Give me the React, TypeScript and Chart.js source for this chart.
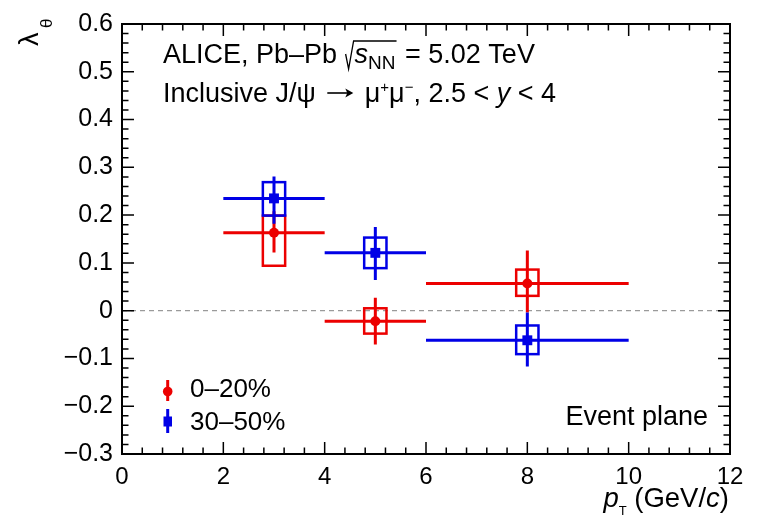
import React, { useEffect, useRef } from "react";
import { Chart, registerables } from "chart.js";

Chart.register(...registerables);

// ---- data ----
const ptCenters = [3, 5, 8];
const ptLow = [2, 4, 6];
const ptHigh = [4, 6, 10];

const lambda020 = [0.163, -0.022, 0.057];
const stat020Up = [0.045, 0.049, 0.069];
const stat020Down = [0.041, 0.049, 0.061];
const syst020Up = [0.036, 0.027, 0.029];
const syst020Down = [0.069, 0.026, 0.026];

const lambda3050 = [0.235, 0.121, -0.062];
const stat3050Up = [0.046, 0.054, 0.058];
const stat3050Down = [0.053, 0.057, 0.055];
const syst3050Up = [0.034, 0.032, 0.031];
const syst3050Down = [0.036, 0.032, 0.029];

const systHalfWidth = 0.22;

const xTickValues = [0, 2, 4, 6, 8, 10, 12];
const yTickValues = [-0.3, -0.2, -0.1, 0, 0.1, 0.2, 0.3, 0.4, 0.5, 0.6];

const seriesLabels = ["0\u201320%", "30\u201350%"];

const RED = "rgb(236,0,0)";
const BLUE = "rgb(0,0,230)";
const FONT = '"Liberation Sans", Arial, Helvetica, sans-serif';

type Seg = { t: string; size?: number; italic?: boolean; dy?: number; arrow?: number };

function setFont(ctx: CanvasRenderingContext2D, s: Seg, def: number) {
  ctx.font = `${s.italic ? "italic " : ""}${s.size ?? def}px ${FONT}`;
}

function segWidth(ctx: CanvasRenderingContext2D, s: Seg, def = 27) {
  if (s.arrow) return s.arrow;
  setFont(ctx, s, def);
  return ctx.measureText(s.t).width;
}

function drawSegs(ctx: CanvasRenderingContext2D, x: number, y: number, segs: Seg[], def = 27) {
  let cx = x;
  ctx.textAlign = "left";
  ctx.textBaseline = "alphabetic";
  for (const s of segs) {
    if (s.arrow) {
      const ay = y - 9;
      const x0 = cx + 4;
      const x1 = cx + s.arrow - 4;
      ctx.save();
      ctx.strokeStyle = ctx.fillStyle as string;
      ctx.lineWidth = 1.6;
      ctx.beginPath();
      ctx.moveTo(x0, ay);
      ctx.lineTo(x1 - 2, ay);
      ctx.stroke();
      ctx.beginPath();
      ctx.moveTo(x1, ay);
      ctx.lineTo(x1 - 8, ay - 4.5);
      ctx.lineTo(x1 - 6, ay);
      ctx.lineTo(x1 - 8, ay + 4.5);
      ctx.closePath();
      ctx.fill();
      ctx.restore();
      cx += s.arrow;
      continue;
    }
    setFont(ctx, s, def);
    ctx.fillText(s.t, cx, y + (s.dy ?? 0));
    cx += ctx.measureText(s.t).width;
  }
  return cx;
}

function fmtY(v: number) {
  const r = Math.round(v * 10) / 10;
  if (Math.abs(r) < 1e-9) return "0";
  return (r < 0 ? "\u2212" : "") + Math.abs(r).toFixed(1);
}

const overlayPlugin = {
  id: "rootStyle",
  beforeDatasetsDraw(chart: any) {
    const ctx: CanvasRenderingContext2D = chart.ctx;
    const xs = chart.scales.x;
    const ys = chart.scales.y;
    const area = chart.chartArea;
    ctx.save();
    // zero dashed line
    ctx.strokeStyle = "#9a9a9a";
    ctx.lineWidth = 1.4;
    ctx.setLineDash([5, 4]);
    ctx.beginPath();
    ctx.moveTo(area.left, ys.getPixelForValue(0));
    ctx.lineTo(area.right, ys.getPixelForValue(0));
    ctx.stroke();
    ctx.setLineDash([]);

    const series = [
      { c: RED, v: lambda020, su: stat020Up, sd: stat020Down, yu: syst020Up, yd: syst020Down },
      { c: BLUE, v: lambda3050, su: stat3050Up, sd: stat3050Down, yu: syst3050Up, yd: syst3050Down },
    ];
    for (const s of series) {
      ctx.strokeStyle = s.c;
      for (let i = 0; i < ptCenters.length; i++) {
        const px = xs.getPixelForValue(ptCenters[i]);
        const py = ys.getPixelForValue(s.v[i]);
        ctx.lineWidth = 2.5;
        const bx0 = xs.getPixelForValue(ptCenters[i] - systHalfWidth);
        const bx1 = xs.getPixelForValue(ptCenters[i] + systHalfWidth);
        const by0 = ys.getPixelForValue(s.v[i] + s.yu[i]);
        const by1 = ys.getPixelForValue(s.v[i] - s.yd[i]);
        ctx.strokeRect(bx0, by0, bx1 - bx0, by1 - by0);
        ctx.lineWidth = 3;
        ctx.beginPath();
        ctx.moveTo(xs.getPixelForValue(ptLow[i]), py);
        ctx.lineTo(xs.getPixelForValue(ptHigh[i]), py);
        ctx.moveTo(px, ys.getPixelForValue(s.v[i] + s.su[i]));
        ctx.lineTo(px, ys.getPixelForValue(s.v[i] - s.sd[i]));
        ctx.stroke();
      }
    }
    ctx.restore();
  },
  afterDraw(chart: any) {
    const ctx: CanvasRenderingContext2D = chart.ctx;
    const xs = chart.scales.x;
    const ys = chart.scales.y;
    const a = chart.chartArea;
    ctx.save();
    ctx.strokeStyle = "#000";
    ctx.fillStyle = "#000";
    ctx.lineWidth = 2;
    ctx.strokeRect(a.left, a.top, a.right - a.left, a.bottom - a.top);
    ctx.lineWidth = 1.5;
    ctx.beginPath();
    for (let k = 0; k <= 30; k++) {
      const v = k * 0.4;
      const major = k % 5 === 0;
      const len = major ? 12 : 6.5;
      const p = xs.getPixelForValue(v);
      ctx.moveTo(p, a.bottom);
      ctx.lineTo(p, a.bottom - len);
      ctx.moveTo(p, a.top);
      ctx.lineTo(p, a.top + len);
    }
    for (let k = 0; k <= 45; k++) {
      const v = -0.3 + k * 0.02;
      const major = k % 5 === 0;
      const len = major ? 12 : 6.5;
      const p = ys.getPixelForValue(v);
      ctx.moveTo(a.left, p);
      ctx.lineTo(a.left + len, p);
      ctx.moveTo(a.right, p);
      ctx.lineTo(a.right - len, p);
    }
    ctx.stroke();

    // annotation line 1
    const base = 63;
    let cx = drawSegs(ctx, 163, base, [{ t: "ALICE, Pb\u2013Pb " }]);
    const rx = cx + 1;
    cx = rx + 9;
    cx = drawSegs(ctx, cx, base, [
      { t: "s", italic: true },
      { t: "NN", size: 19, dy: 6 },
    ]);
    ctx.lineWidth = 1.3;
    ctx.beginPath();
    ctx.moveTo(rx, base - 9);
    ctx.lineTo(rx + 3, base + 6);
    ctx.lineTo(rx + 8, base - 22);
    ctx.lineTo(cx + 1, base - 22);
    ctx.stroke();
    drawSegs(ctx, cx + 2, base, [{ t: " = 5.02 TeV" }]);

    // annotation line 2
    drawSegs(ctx, 163, 102, [
      { t: "Inclusive J/\u03c8 " },
      { t: "", arrow: 34 },
      { t: " \u03bc" },
      { t: "+", size: 15, dy: -10 },
      { t: "\u03bc" },
      { t: "\u2212", size: 15, dy: -10 },
      { t: ", 2.5 < " },
      { t: "y", italic: true },
      { t: " < 4" },
    ]);

    // Event plane
    ctx.font = `27px ${FONT}`;
    ctx.textAlign = "right";
    ctx.fillText("Event plane", 708, 425);

    // legend
    ctx.lineWidth = 3;
    ctx.strokeStyle = RED;
    ctx.fillStyle = RED;
    ctx.beginPath();
    ctx.moveTo(167.7, 380);
    ctx.lineTo(167.7, 401);
    ctx.stroke();
    ctx.beginPath();
    ctx.arc(167.7, 391.5, 4.8, 0, Math.PI * 2);
    ctx.fill();
    ctx.strokeStyle = BLUE;
    ctx.fillStyle = BLUE;
    ctx.beginPath();
    ctx.moveTo(167.7, 409);
    ctx.lineTo(167.7, 433);
    ctx.stroke();
    ctx.fillRect(163.5, 416.5, 8.5, 10);
    ctx.fillStyle = "#000";
    drawSegs(ctx, 190, 397, [{ t: seriesLabels[0] }], 26);
    drawSegs(ctx, 190, 430, [{ t: seriesLabels[1] }], 26);

    // x title
    const xt: Seg[] = [
      { t: "p", italic: true },
      { t: "T", size: 13, dy: 8 },
      { t: " (GeV/" },
      { t: "c", italic: true },
      { t: ")" },
    ];
    const tw = xt.reduce((s, g) => s + segWidth(ctx, g, 27.5), 0);
    drawSegs(ctx, 729 - tw, 507, xt, 27.5);

    // y title (rotated)
    ctx.save();
    ctx.translate(38, 46);
    ctx.rotate(-Math.PI / 2);
    ctx.font = `27px ${FONT}`;
    ctx.textAlign = "left";
    ctx.fillText("\u03bb", 0, 0);
    ctx.restore();
    ctx.save();
    ctx.translate(52, 28);
    ctx.rotate(-Math.PI / 2);
    ctx.font = `17px ${FONT}`;
    ctx.textAlign = "left";
    ctx.fillText("\u03b8", 0, 0);
    ctx.restore();

    ctx.restore();
  },
};

export default function App() {
  const ref = useRef<HTMLCanvasElement | null>(null);
  useEffect(() => {
    if (!ref.current) return;
    const chart = new Chart(ref.current, {
      type: "scatter",
      data: {
        datasets: [
          {
            label: seriesLabels[0],
            data: ptCenters.map((x, i) => ({ x, y: lambda020[i] })),
            pointStyle: "circle",
            pointRadius: 5,
            backgroundColor: RED,
            borderColor: RED,
            borderWidth: 0,
          },
          {
            label: seriesLabels[1],
            data: ptCenters.map((x, i) => ({ x, y: lambda3050[i] })),
            pointStyle: "rect",
            pointRadius: 7,
            backgroundColor: BLUE,
            borderColor: BLUE,
            borderWidth: 0,
          },
        ],
      },
      options: {
        responsive: false,
        animation: false,
        events: [],
        layout: { padding: { left: 0, right: 31, top: 17, bottom: 0 } },
        plugins: { legend: { display: false }, tooltip: { enabled: false } },
        scales: {
          x: {
            type: "linear",
            min: 0,
            max: 12,
            grid: { display: false, drawTicks: false },
            border: { display: false },
            afterBuildTicks: (s: any) => {
              s.ticks = xTickValues.map((v) => ({ value: v }));
            },
            ticks: {
              font: { family: FONT, size: 24 },
              color: "#000",
              padding: 9,
              maxRotation: 0,
              autoSkip: false,
              callback: (v: any) => String(v),
            },
            afterFit: (s: any) => {
              s.height = 69;
            },
          },
          y: {
            type: "linear",
            min: -0.3,
            max: 0.6,
            grid: { display: false, drawTicks: false },
            border: { display: false },
            afterBuildTicks: (s: any) => {
              s.ticks = yTickValues.map((v) => ({ value: v }));
            },
            ticks: {
              font: { family: FONT, size: 25 },
              color: "#000",
              padding: 9,
              autoSkip: false,
              callback: (v: any) => fmtY(Number(v)),
            },
            afterFit: (s: any) => {
              s.width = 122;
            },
          },
        },
      },
      plugins: [overlayPlugin],
    } as any);
    return () => chart.destroy();
  }, []);
  return (
    <canvas
      ref={ref}
      width={761}
      height={523}
      style={{ position: "absolute", left: 0, top: 0, width: 761, height: 523, display: "block" }}
    />
  );
}
